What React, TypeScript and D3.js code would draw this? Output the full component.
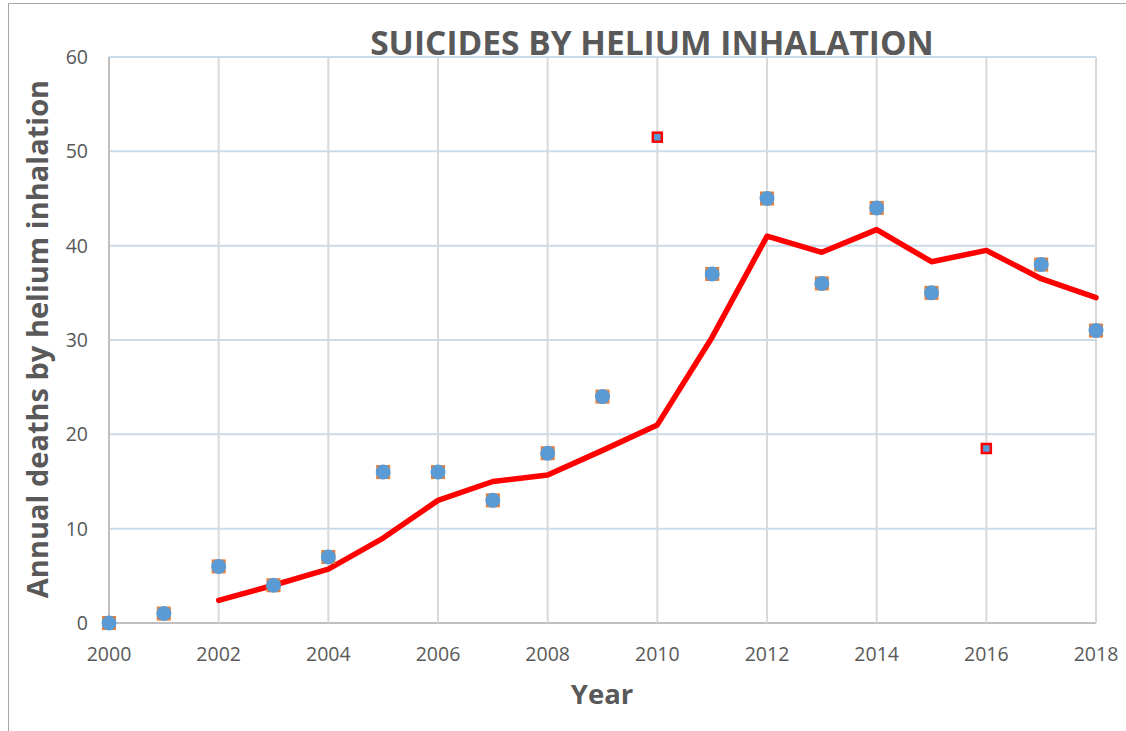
import * as d3 from 'd3';

const years = d3.range(2000, 2019);
const deaths = [0, 1, 6, 4, 7, 16, 16, 13, 18, 24, 51.5, 37, 45, 36, 44, 35, 18.5, 38, 31];
const outlierYears = [2010, 2016];
const trendYears = d3.range(2002, 2019);
const trend = [2.4, 4, 5.7, 9, 13, 15, 15.7, 18.3, 21, 30.3, 41, 39.3, 41.7, 38.3, 39.5, 36.5, 34.5];
const yTicks = [0, 10, 20, 30, 40, 50, 60];
const xTicks = d3.range(2000, 2019, 2);

const W = 1126;
const H = 731;
const left = 109;
const right = 1096;
const top = 57;
const bottom = 623;
const grey = '#595959';
const font = '"Open Sans", sans-serif';

export default function App() {
  const x = d3.scaleLinear().domain([2000, 2018]).range([left, right]);
  const y = d3.scaleLinear().domain([0, 60]).range([bottom, top]);

  const line = d3
    .line<number>()
    .x((_, i) => x(trendYears[i]))
    .y(d => y(d));

  const points = years.map((yr, i) => ({ yr, v: deaths[i] }));

  return (
    <svg
      width={W}
      height={H}
      style={{ position: 'absolute', left: 0, top: 0 }}
      fontFamily={font}
    >
      <rect x={0} y={0} width={W} height={H} fill="#fff" />
      <line x1={8.5} y1={3.5} x2={W} y2={3.5} stroke="#a6a6a6" />
      <line x1={8.5} y1={3.5} x2={8.5} y2={H} stroke="#a6a6a6" />

      {yTicks.map(t => (
        <line
          key={'h' + t}
          x1={left}
          x2={right}
          y1={y(t)}
          y2={y(t)}
          stroke={t === 0 ? '#bfbfbf' : '#c9dcec'}
          strokeWidth={2}
        />
      ))}
      {xTicks.map(t => (
        <line
          key={'v' + t}
          x1={x(t)}
          x2={x(t)}
          y1={top}
          y2={bottom}
          stroke={t === 2000 ? '#bfbfbf' : '#d9d9d9'}
          strokeWidth={2}
        />
      ))}

      {yTicks.map(t => (
        <text
          key={'yl' + t}
          x={88}
          y={y(t) + 7}
          textAnchor="end"
          fontSize={19.5}
          fill={grey}
        >
          {t}
        </text>
      ))}
      {xTicks.map(t => (
        <text
          key={'xl' + t}
          x={x(t)}
          y={661}
          textAnchor="middle"
          fontSize={19.5}
          fill={grey}
        >
          {t}
        </text>
      ))}

      <path
        d={line(trend) || ''}
        fill="none"
        stroke="#ff0000"
        strokeWidth={5.5}
        strokeLinejoin="round"
        strokeLinecap="round"
      />

      {points.map(p =>
        outlierYears.includes(p.yr) ? (
          <g key={p.yr}>
            <rect
              x={x(p.yr) - 4.5}
              y={y(p.v) - 4.5}
              width={9}
              height={9}
              fill="#5b9bd5"
              stroke="#ff0000"
              strokeWidth={2.5}
            />
          </g>
        ) : (
          <g key={p.yr}>
            <rect
              x={x(p.yr) - 7}
              y={y(p.v) - 7}
              width={14}
              height={14}
              fill="#ed7d31"
            />
            <circle cx={x(p.yr)} cy={y(p.v)} r={7.5} fill="#5b9bd5" />
          </g>
        )
      )}

      <text
        x={652}
        y={55}
        textAnchor="middle"
        fontSize={33.5}
        fontWeight="bold"
        fill={grey}
      >
        SUICIDES BY HELIUM INHALATION
      </text>
      <text
        x={602}
        y={704}
        textAnchor="middle"
        fontSize={27.5}
        fontWeight="bold"
        fill={grey}
      >
        Year
      </text>
      <text
        transform={`translate(48,${339}) rotate(-90)`}
        textAnchor="middle"
        fontSize={29}
        fontWeight="bold"
        fill={grey}
      >
        Annual deaths by helium inhalation
      </text>
    </svg>
  );
}
